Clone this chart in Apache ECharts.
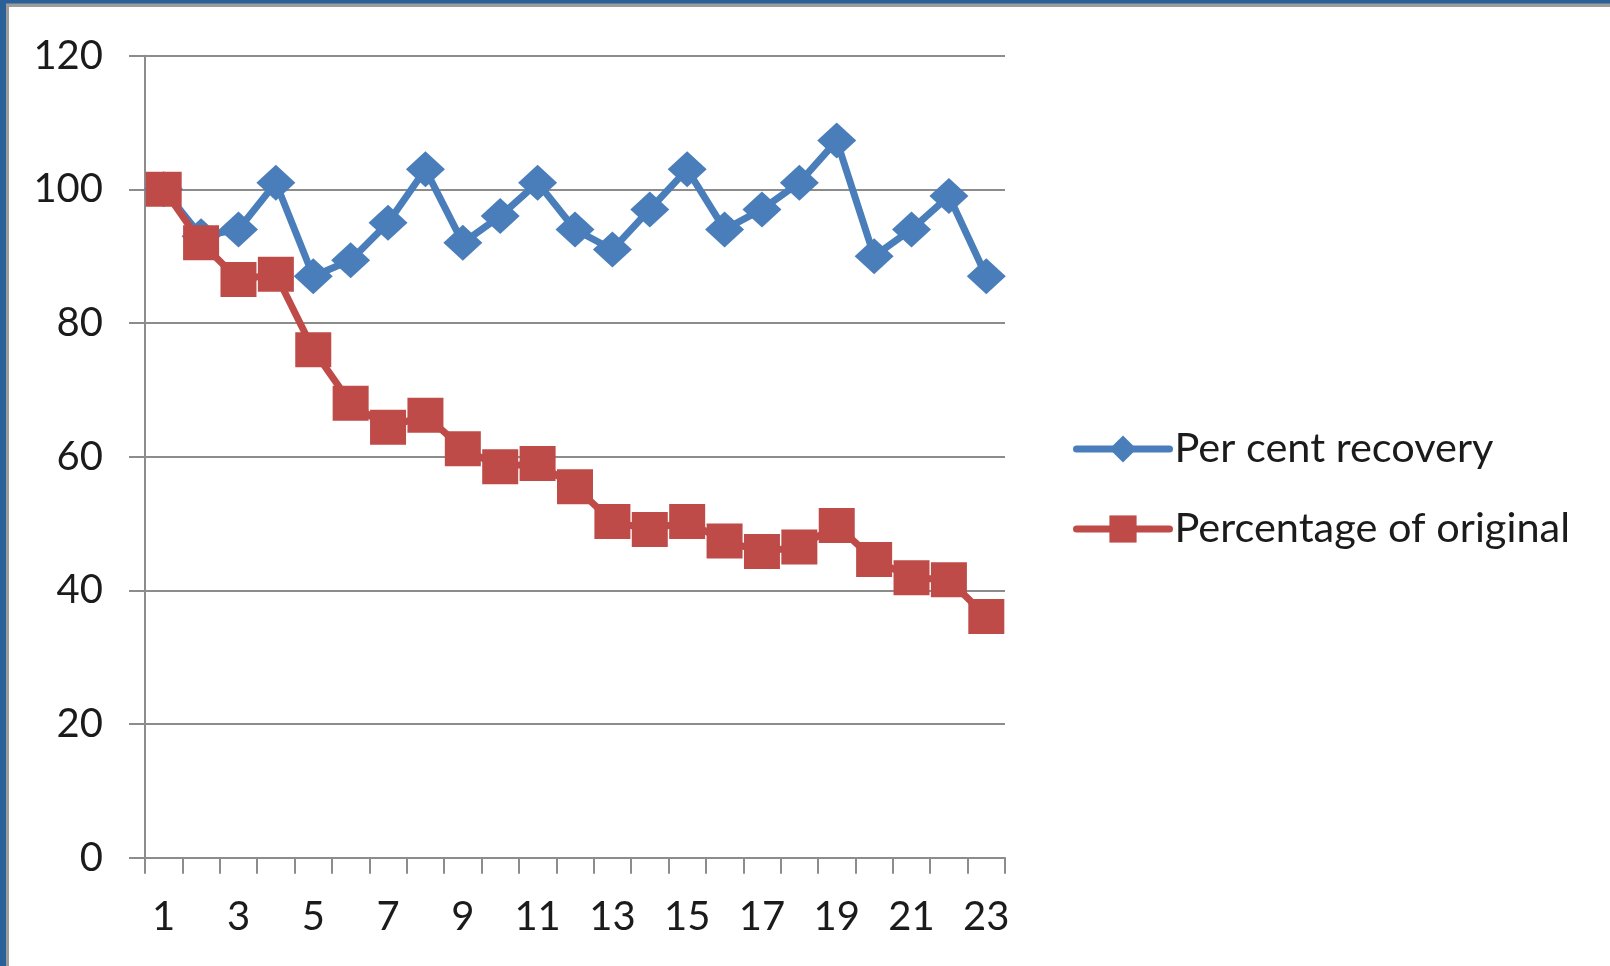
<!DOCTYPE html>
<html>
<head>
<meta charset="utf-8">
<script src="https://cdn.jsdelivr.net/npm/echarts@6/dist/echarts.min.js"></script>
<style>
  html, body { margin: 0; padding: 0; background: #ffffff; }
  #chart { width: 1610px; height: 966px; }
</style>
</head>
<body>
<div id="chart"></div>
<script>
// Sample index along the x axis
const categories = ['1','2','3','4','5','6','7','8','9','10','11','12','13','14','15','16','17','18','19','20','21','22','23'];

// Recovery of each step, in per cent
const perCentRecovery = [100, 93, 94, 101, 87, 89.4, 95, 103, 92, 96, 101, 94, 91, 97, 103, 94, 97, 101, 107.3, 90, 94, 99, 87];

// Cumulative amount left, as a percentage of the starting amount
const percentageOfOriginal = [100, 92, 86.5, 87.3, 76, 68, 64.4, 66.2, 61.2, 58.5, 59, 55.5, 50.3, 49.1, 50.3, 47.4, 45.8, 46.5, 49.7, 44.6, 41.9, 41.6, 36.1];

const yTicks = { min: 0, max: 120, interval: 20 };

const FONT = 'Lato';
const TEXT = '#1b1b1b';
const GRID_GRAY = '#8c8c8c';
const BLUE = '#4a7ebb';
const RED = '#be4b48';

const chart = echarts.init(document.getElementById('chart'), null, { renderer: 'canvas' });

chart.setOption({
  animation: false,
  backgroundColor: '#ffffff',
  textStyle: { fontFamily: FONT },
  graphic: [
    // window frame along the top and left edges
    { type: 'rect', shape: { x: 0, y: 0, width: 1610, height: 7 }, style: { fill: '#9c9c9c' }, silent: true },
    { type: 'rect', shape: { x: 0, y: 0, width: 9, height: 966 }, style: { fill: '#9c9c9c' }, silent: true },
    { type: 'rect', shape: { x: 0, y: 0, width: 1610, height: 3.5 }, style: { fill: '#2b5f97' }, silent: true },
    { type: 'rect', shape: { x: 0, y: 0, width: 6, height: 966 }, style: { fill: '#2b5f97' }, silent: true }
  ],
  grid: {
    left: 145,
    right: 605,
    top: 55.7,
    bottom: 108.3,
    containLabel: false
  },
  legend: {
    orient: 'vertical',
    left: 1068,
    top: 423,
    itemWidth: 93,
    itemHeight: 34,
    itemGap: 38,
    lineStyle: { width: 7, cap: 'round' },
    textStyle: { fontFamily: FONT, fontSize: 41.5, color: TEXT, padding: [0, 0, 0, 0] },
    data: ['Per cent recovery', 'Percentage of original']
  },
  xAxis: {
    type: 'category',
    data: categories,
    boundaryGap: true,
    axisLine: { show: true, lineStyle: { color: GRID_GRAY, width: 2 } },
    axisTick: { show: true, alignWithLabel: false, interval: 0, length: 16, lineStyle: { color: GRID_GRAY, width: 2 } },
    axisLabel: { interval: 1, margin: 39, fontFamily: FONT, fontSize: 40, color: TEXT },
    splitLine: { show: false }
  },
  yAxis: {
    type: 'value',
    min: yTicks.min,
    max: yTicks.max,
    interval: yTicks.interval,
    axisLine: { show: true, lineStyle: { color: GRID_GRAY, width: 2 } },
    axisTick: { show: true, length: 16, lineStyle: { color: GRID_GRAY, width: 2 } },
    axisLabel: { margin: 42, fontFamily: FONT, fontSize: 40, color: TEXT },
    splitLine: { show: true, lineStyle: { color: GRID_GRAY, width: 2 } }
  },
  series: [
    {
      name: 'Per cent recovery',
      type: 'line',
      data: perCentRecovery,
      symbol: 'diamond',
      symbolSize: [39, 36],
      showSymbol: true,
      showAllSymbol: true,
      lineStyle: { color: BLUE, width: 7, cap: 'round', join: 'round' },
      itemStyle: { color: BLUE },
      emphasis: { disabled: true }
    },
    {
      name: 'Percentage of original',
      type: 'line',
      data: percentageOfOriginal,
      symbol: 'rect',
      symbolSize: [36, 35],
      showSymbol: true,
      showAllSymbol: true,
      lineStyle: { color: RED, width: 7, cap: 'round', join: 'round' },
      itemStyle: { color: RED },
      emphasis: { disabled: true }
    }
  ]
});
</script>
</body>
</html>
